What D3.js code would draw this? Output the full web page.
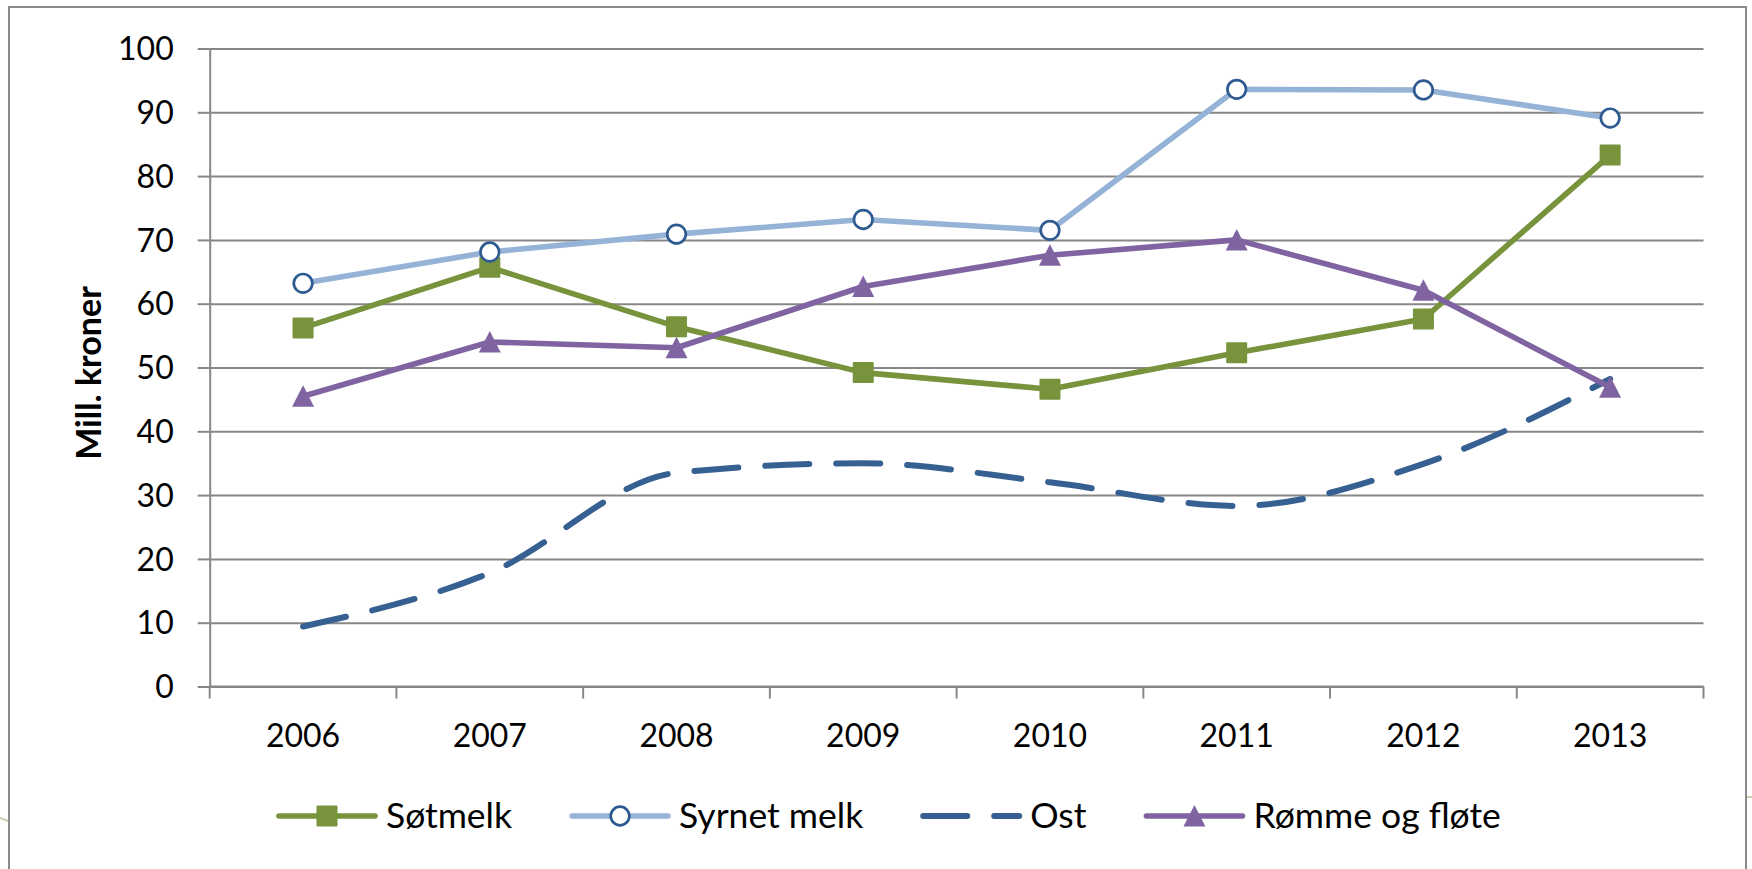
<!DOCTYPE html>
<html>
<head>
<meta charset="utf-8">
<script src="https://cdn.jsdelivr.net/npm/d3@7"></script>
<style>
  html, body { margin: 0; padding: 0; background: #ffffff; }
  svg { display: block; font-family: Lato, "Open Sans", sans-serif; }
</style>
</head>
<body>
<div id="chart"></div>
<script>
// data
const years = ['2006', '2007', '2008', '2009', '2010', '2011', '2012', '2013'];
const yTicks = [0, 10, 20, 30, 40, 50, 60, 70, 80, 90, 100];
const seriesNames = ['Søtmelk', 'Syrnet melk', 'Ost', 'Rømme og fløte'];
const sotmelk = [56.2, 65.7, 56.4, 49.2, 46.6, 52.3, 57.6, 83.3];
const syrnetMelk = [63.2, 68.1, 70.9, 73.2, 71.5, 93.6, 93.5, 89.1];
const ost = [9.4, 17.8, 33.5, 35.0, 32.0, 28.3, 34.9, 48.2];
const rommeOgFlote = [45.5, 54.0, 53.1, 62.7, 67.6, 70.0, 62.1, 46.9];
const yTitle = 'Mill. kroner';

document.addEventListener('DOMContentLoaded', function(){
  drawChart();
});

function drawChart() {
  const W = 1752, H = 869;
  const svg = d3.select('#chart').append('svg').attr('width', W).attr('height', H);
  const gridColor = '#878787';

  // chart frame (goes past the bottom edge of the picture)
  svg.append('rect')
    .attr('x', 9).attr('y', 7)
    .attr('width', 1737).attr('height', 920)
    .attr('fill', 'none').attr('stroke', '#8a8a8a').attr('stroke-width', 2);
  // bits of the slide behind the chart
  svg.append('line').attr('x1', 0).attr('y1', 818).attr('x2', 8).attr('y2', 821)
    .attr('stroke', '#c9cfae').attr('stroke-width', 2);
  svg.append('line').attr('x1', 1747).attr('y1', 797).attr('x2', 1752).attr('y2', 797)
    .attr('stroke', '#c9cfae').attr('stroke-width', 2);

  let x = d3.scaleBand().domain(years).range([209.7, 1703.5]);
  let y = d3.scaleLinear().domain([0, 100]).range([686.5, 48.5]);
  const left = x.range()[0], right = x.range()[1];

  // gridlines
  svg.append('g').attr('class', 'grid')
    .attr('transform', 'translate(' + left + ',0)')
    .call(d3.axisRight(y).tickValues(yTicks).tickSize(right - left).tickFormat(''))
    .call(g => g.select('.domain').remove())
    .selectAll('line').attr('stroke', gridColor).attr('stroke-width', 2);

  // y axis
  let yAxis = svg.append('g')
    .attr('transform', 'translate(' + left + ',0)')
    .call(d3.axisLeft(y).tickValues(yTicks).tickSizeInner(12).tickSizeOuter(0).tickPadding(24));
  yAxis.select('.domain').attr('stroke', gridColor).attr('stroke-width', 2);
  yAxis.selectAll('line').attr('stroke', gridColor).attr('stroke-width', 2);
  yAxis.selectAll('text')
    .attr('font-family', 'Lato, sans-serif').attr('font-size', 32).attr('fill', '#000')
    .attr('dy', '0.35em');

  // x axis: labels centred in bands, ticks on band edges
  let xAxis = svg.append('g')
    .attr('transform', 'translate(0,' + y(0) + ')')
    .call(d3.axisBottom(x).tickSize(0).tickPadding(38));
  xAxis.select('.domain').remove();
  xAxis.selectAll('text')
    .attr('font-family', 'Lato, sans-serif').attr('font-size', 32).attr('fill', '#000');
  svg.append('line')
    .attr('x1', left).attr('x2', right).attr('y1', y(0)).attr('y2', y(0))
    .attr('stroke', gridColor).attr('stroke-width', 2);
  svg.append('g').selectAll('line')
    .data(years.map(d => x(d)).concat([right]))
    .enter().append('line')
    .attr('x1', d => d).attr('x2', d => d)
    .attr('y1', y(0)).attr('y2', y(0) + 12)
    .attr('stroke', gridColor).attr('stroke-width', 2);

  // y title
  svg.append('text')
    .attr('transform', 'translate(101,373) rotate(-90)')
    .attr('text-anchor', 'middle')
    .attr('font-family', 'Lato, sans-serif').attr('font-weight', 'bold').attr('font-size', 34)
    .attr('fill', '#000')
    .text(yTitle);

  const cx = d => x(d) + x.bandwidth() / 2;

  // marker shapes
  function drawMarker(sel, kind) {
    if (kind === 'square') {
      sel.append('rect').attr('x', -10.5).attr('y', -10.5).attr('width', 21).attr('height', 21)
        .attr('rx', 1).attr('fill', '#77933c');
    } else if (kind === 'circle') {
      sel.append('circle').attr('r', 9.3).attr('fill', '#fff')
        .attr('stroke', '#2f5b92').attr('stroke-width', 2.7);
    } else if (kind === 'triangle') {
      sel.append('path').attr('d', 'M0,-11 L11,10.5 L-11,10.5 Z').attr('fill', '#8064a2');
    }
  }

  const series = [
    { name: seriesNames[0], values: sotmelk, color: '#77933c', marker: 'square', dash: null, curve: d3.curveLinear },
    { name: seriesNames[1], values: syrnetMelk, color: '#95b3d7', marker: 'circle', dash: null, curve: d3.curveLinear },
    { name: seriesNames[2], values: ost, color: '#376092', marker: null, dash: '44 27', curve: d3.curveMonotoneX },
    { name: seriesNames[3], values: rommeOgFlote, color: '#8064a2', marker: 'triangle', dash: null, curve: d3.curveLinear }
  ];

  series.forEach(function(s) {
    let line = d3.line()
      .x((d, i) => cx(years[i]))
      .y(d => y(d))
      .curve(s.curve);
    let g = svg.append('g');
    g.append('path')
      .attr('d', line(s.values))
      .attr('fill', 'none')
      .attr('stroke', s.color)
      .attr('stroke-width', s.dash ? 6 : 5.6)
      .attr('stroke-linejoin', 'round')
      .attr('stroke-linecap', s.dash ? 'round' : 'butt')
      .attr('stroke-dasharray', s.dash);
    if (s.marker) {
      g.selectAll('g.mk').data(s.values).enter().append('g')
        .attr('class', 'mk')
        .attr('transform', (d, i) => 'translate(' + cx(years[i]) + ',' + y(d) + ')')
        .each(function() { drawMarker(d3.select(this), s.marker); });
    }
  });

  // legend
  const legendY = 816;
  let lx = 276;
  series.forEach(function(s) {
    let g = svg.append('g');
    g.append('line')
      .attr('x1', lx + 3).attr('x2', lx + 99)
      .attr('y1', legendY).attr('y2', legendY)
      .attr('stroke', s.color)
      .attr('stroke-width', s.dash ? 6 : 5.6)
      .attr('stroke-linecap', 'round')
      .attr('stroke-dasharray', s.dash);
    if (s.marker) {
      let m = g.append('g').attr('transform', 'translate(' + (lx + 51) + ',' + legendY + ')');
      drawMarker(m, s.marker);
    }
    let t = g.append('text')
      .attr('x', lx + 110).attr('y', 828)
      .attr('font-family', 'Lato, sans-serif').attr('font-size', 35.5).attr('fill', '#000')
      .text(s.name);
    lx = lx + 110 + t.node().getComputedTextLength() + 57;
  });
}
</script>
</body>
</html>
